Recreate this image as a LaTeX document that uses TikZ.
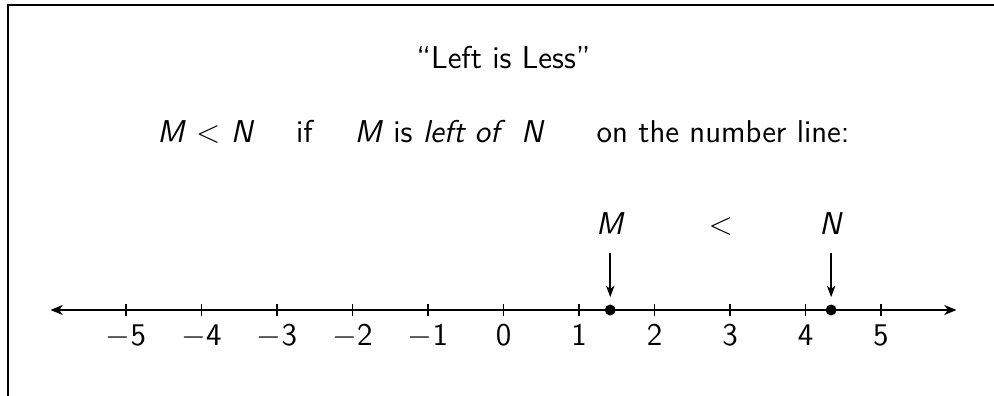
\documentclass[tikz,border=0pt]{standalone}
\usepackage{fontspec}
\usetikzlibrary{arrows.meta,positioning}

\begin{document}
\begin{tikzpicture}[font=\sffamily\fontsize{11.9}{14}\selectfont,
  frame/.style={line width=1pt},
  axis/.style={line width=0.8pt,
               {Stealth[length=1.6mm,width=1.3mm,inset=0.45mm]}-{Stealth[length=1.6mm,width=1.3mm,inset=0.45mm]}},
  tickmark/.style={line width=0.7pt},
  numlbl/.style={anchor=base, inner sep=0pt},
  ptlbl/.style={anchor=base, inner sep=0pt},
  ptarr/.style={-{Stealth[length=1.5mm,width=1.1mm,inset=0.4mm]}, line width=0.75pt, shorten >=0.9mm},
  dot/.style={circle, fill, inner sep=0pt, minimum size=1.45mm}]

  \useasboundingbox (-6.669,-1.139) rectangle (6.497,4.106);
  \draw[frame] (-6.563,-1.139) |- (6.497,4.040);

  % heading
  \node[anchor=base] (title) at (0,3.205) {``Left is Less''};
  \node[anchor=base] (rule) at (0,2.225)
    {\textit{M} $<$ \textit{N} \quad if \quad \textit{M} is \textit{left of}\,\ \textit{N} \quad\ on the number line:};

  % number line
  \coordinate (lend) at (-6,0);
  \coordinate (rend) at (6,0);
  \draw[axis] (lend) -- (rend);
  \foreach \n in {-5,...,5} {
    \draw[tickmark] (\n,0.08) -- (\n,-0.08);
    \node[numlbl] (n\n) at (\n,-0.464) {\ifnum\n<0 $-$\the\numexpr-\n\relax\else\n\fi};
  }

  % the two points
  \node[dot] (mdot) at (1.414,0) {};
  \node[dot] (ndot) at (4.34,0) {};
  \node[ptlbl] (mlbl) at (1.414,1) {\textit{M}};
  \node[ptlbl] (nlbl) at (4.34,1) {\textit{N}};
  \node[ptlbl] (less) at (2.877,1) {$<$};
  \draw[ptarr] ([yshift=-2.4mm]mlbl.south) -- (mdot);
  \draw[ptarr] ([yshift=-2.4mm]nlbl.south) -- (ndot);

\end{tikzpicture}
\end{document}
